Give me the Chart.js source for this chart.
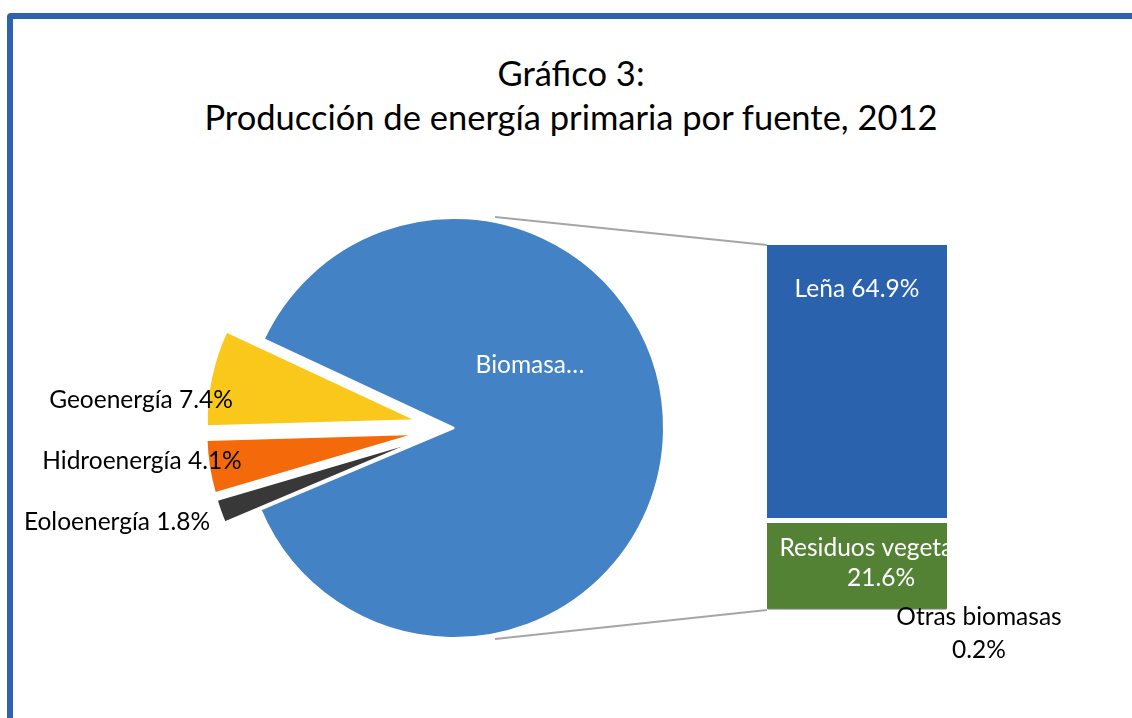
<!DOCTYPE html>
<html>
<head>
<meta charset="utf-8">
<script src="https://cdn.jsdelivr.net/npm/chart.js@4.4.1/dist/chart.umd.min.js"></script>
<style>
    html, body { margin: 0; padding: 0; background: #fff; }
    #wrap { position: relative; width: 1132px; height: 718px; overflow: hidden; }
    #frame { position: absolute; left: 7px; top: 13px; width: 1200px; height: 800px;
             border: 6px solid #2E62AF; border-radius: 4px; box-sizing: border-box; }
    #title { position: absolute; left: 0; top: 51px; width: 1142px; text-align: center;
             font-family: Lato, sans-serif; font-size: 34.5px; line-height: 44px; color: #000; }
    canvas { position: absolute; left: 0; top: 0; }
</style>
</head>
<body>
<div id="wrap">
    <div id="frame"></div>
    <div id="title">Gráfico 3:<br>Producción de energía primaria por fuente, 2012</div>
    <canvas id="pieChart" width="1132" height="718"></canvas>
    <canvas id="barChart" width="1132" height="718"></canvas>
</div>
<script>
// datos del gráfico
const pieLabels = ['Biomasa', 'Eoloenergía', 'Hidroenergía', 'Geoenergía'];
const pieValues = [86.7, 1.8, 4.1, 7.4];
const pieTexts = ['Biomasa…', 'Eoloenergía 1.8%', 'Hidroenergía 4.1%', 'Geoenergía 7.4%'];

const barCategories = ['Biomasa'];
const barSeries = ['Otras biomasas', 'Residuos vegetales', 'Leña'];
const barValues = [0.2, 21.6, 64.9];

// colores
const colors = {
    biomasa: '#4282C5',
    eolo: '#383838',
    hidro: '#F46A0A',
    geo: '#F9C81A',
    lena: '#2B62AE',
    residuos: '#548235',
    otras: '#A5A5A5',
    line: '#A6A6A6'
};

const labelFont = '24.5px Lato, sans-serif';

// separacion de los sectores pequeños (px)
const explodeDist = [0, 38, 38, 38];

// posicion de las etiquetas respecto al centro del pastel
const pieLabelShift = [[76, -63], [-337, 94], [-312, 33], [-313, -28]];

// dibuja los sectores desplazados hacia fuera
const explodePlugin = {
    id: 'explode',
    beforeDatasetDraw(chart, args) {
        const ctx = chart.ctx;
        args.meta.data.forEach((arc, i) => {
            const mid = (arc.startAngle + arc.endAngle) / 2;
            ctx.save();
            ctx.translate(Math.cos(mid) * explodeDist[i], Math.sin(mid) * explodeDist[i]);
            arc.draw(ctx);
            ctx.restore();
        });
        return false;
    }
};

// etiquetas del pastel
const pieLabelPlugin = {
    id: 'pieLabels',
    afterDatasetsDraw(chart) {
        const ctx = chart.ctx;
        const arcs = chart.getDatasetMeta(0).data;
        ctx.save();
        ctx.font = labelFont;
        ctx.textAlign = 'center';
        ctx.textBaseline = 'middle';
        arcs.forEach((arc, i) => {
            ctx.fillStyle = i === 0 ? '#fff' : '#000';
            ctx.fillText(pieTexts[i], arc.x + pieLabelShift[i][0], arc.y + pieLabelShift[i][1]);
        });
        ctx.restore();
    }
};

const pieChart = new Chart(document.getElementById('pieChart'), {
    type: 'pie',
    data: {
        labels: pieLabels,
        datasets: [{
            data: pieValues,
            backgroundColor: [colors.biomasa, colors.eolo, colors.hidro, colors.geo],
            borderColor: '#fff',
            borderWidth: 2
        }]
    },
    options: {
        responsive: false,
        animation: false,
        events: [],
        rotation: 295,
        radius: 210,
        layout: { padding: { left: 244, right: 468, top: 218, bottom: 80 } },
        plugins: {
            legend: { display: false },
            tooltip: { enabled: false }
        }
    },
    plugins: [explodePlugin, pieLabelPlugin]
});

// lineas de union pastel - barra
const connectorPlugin = {
    id: 'connector',
    beforeDatasetsDraw(chart) {
        const arc = pieChart.getDatasetMeta(0).data[0];
        const top = chart.getDatasetMeta(2).data[0];
        const bottom = chart.getDatasetMeta(0).data[0];
        const r = arc.outerRadius + 5;
        const a = 79 * Math.PI / 180;
        const ctx = chart.ctx;
        ctx.save();
        ctx.strokeStyle = colors.line;
        ctx.lineWidth = 2;
        ctx.beginPath();
        ctx.moveTo(arc.x + r * Math.cos(-a), arc.y + r * Math.sin(-a));
        ctx.lineTo(top.x - top.width / 2, top.y);
        ctx.moveTo(arc.x + r * Math.cos(a), arc.y + r * Math.sin(a));
        ctx.lineTo(bottom.x - bottom.width / 2, bottom.base);
        ctx.stroke();
        ctx.restore();
    }
};

// etiquetas de la barra
const barLabelPlugin = {
    id: 'barLabels',
    afterDatasetsDraw(chart) {
        const ctx = chart.ctx;
        const lena = chart.getDatasetMeta(2).data[0];
        const resid = chart.getDatasetMeta(1).data[0];
        const otras = chart.getDatasetMeta(0).data[0];
        ctx.save();
        ctx.font = labelFont;
        ctx.textAlign = 'center';
        ctx.textBaseline = 'middle';

        ctx.fillStyle = '#fff';
        ctx.fillText(barSeries[2] + ' ' + barValues[2] + '%', lena.x, lena.y + 44);

        // el texto de residuos queda recortado por la barra
        ctx.save();
        ctx.beginPath();
        ctx.rect(resid.x - resid.width / 2, resid.y, resid.width, resid.base - resid.y);
        ctx.clip();
        ctx.fillText(barSeries[1], resid.x + 24, resid.y + 30);
        ctx.fillText(barValues[1] + '%', resid.x + 24, resid.y + 60);
        ctx.restore();

        ctx.fillStyle = '#000';
        ctx.fillText(barSeries[0], otras.x + 122, otras.base + 7);
        ctx.fillText(barValues[0] + '%', otras.x + 122, otras.base + 40);
        ctx.restore();
    }
};

const barColors = [colors.otras, colors.residuos, colors.lena];
const barBorders = [1, { top: 5, right: 0, bottom: 0, left: 0 }, 0];

new Chart(document.getElementById('barChart'), {
    type: 'bar',
    data: {
        labels: barCategories,
        datasets: barSeries.map((name, i) => ({
            label: name,
            data: [barValues[i]],
            backgroundColor: barColors[i],
            borderColor: '#fff',
            borderWidth: barBorders[i],
            borderSkipped: false,
            barPercentage: 1,
            categoryPercentage: 1
        }))
    },
    options: {
        responsive: false,
        animation: false,
        events: [],
        layout: { padding: { left: 767, right: 185, top: 245, bottom: 108 } },
        scales: {
            x: { display: false, stacked: true },
            y: { display: false, stacked: true, min: 0, max: barValues.reduce((a, b) => a + b, 0) }
        },
        plugins: {
            legend: { display: false },
            tooltip: { enabled: false }
        }
    },
    plugins: [connectorPlugin, barLabelPlugin]
});
</script>
</body>
</html>
